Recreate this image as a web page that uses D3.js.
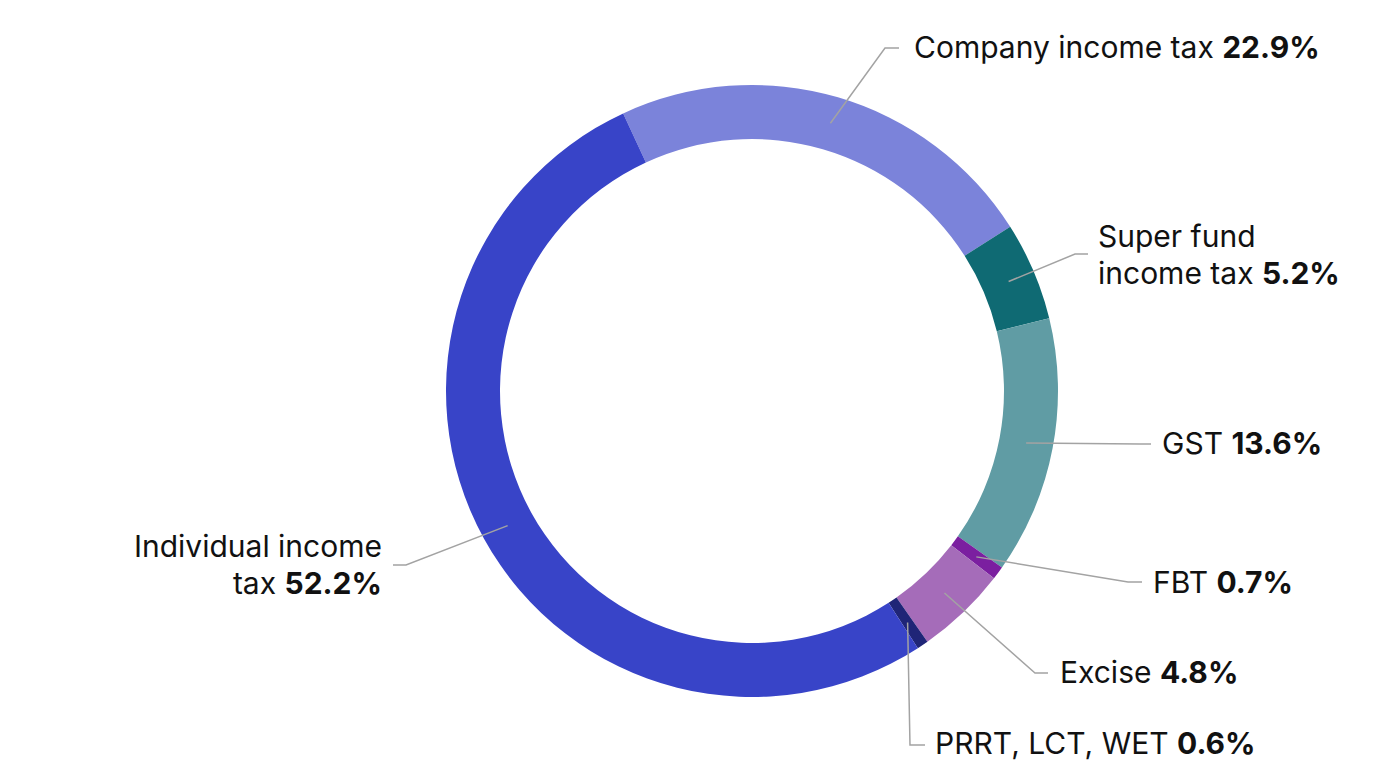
<!DOCTYPE html>
<html>
<head>
<meta charset="utf-8">
<script src="https://cdn.jsdelivr.net/npm/d3@7"></script>
<style>
  body { margin: 0; background: #fff; }
  text { font-family: Inter, "Noto Sans", sans-serif; fill: #111; }
</style>
</head>
<body>
<div id="chart"></div>
<script>
// revenue shares, clockwise from the top
var categories = ["Company income tax", "Super fund income tax", "GST", "FBT", "Excise", "PRRT, LCT, WET", "Individual income tax"];
var shares = [22.9, 5.2, 13.6, 0.7, 4.8, 0.6, 52.2];
var colours = ["#7b83da", "#0f6a73", "#609ca4", "#7b1fa0", "#a56cb9", "#1f2577", "#3844c8"];
// how each label wraps (lines of plain text, last line gets the bold value)
var labelLines = [["Company income tax"], ["Super fund", "income tax"], ["GST"], ["FBT"], ["Excise"], ["PRRT, LCT, WET"], ["Individual income", "tax"]];

var width = 1378, height = 775;
var cx = 752, cy = 391, outerR = 306, innerR = 252;

// label placement: elbow of the leader line, end of line, text anchor
var labelPos = [
  { elbow: [885, 48], end: [899, 48], tx: 914, ty: 58, anchor: "start" },
  { elbow: [1075, 254], end: [1088, 254], tx: 1098, ty: 247, anchor: "start" },
  { elbow: [1140, 444], end: [1151, 444], tx: 1162, ty: 454, anchor: "start" },
  { elbow: [1128, 582], end: [1142, 582], tx: 1153, ty: 593, anchor: "start" },
  { elbow: [1035, 673], end: [1048, 673], tx: 1060, ty: 683, anchor: "start" },
  { elbow: [910, 745], end: [925, 745], tx: 935, ty: 754, anchor: "start" },
  { elbow: [406, 565], end: [393, 565], tx: 382, ty: 557, anchor: "end" }
];

var data = categories.map(function(c, i) {
  return { name: c, value: shares[i], colour: colours[i], lines: labelLines[i], pos: labelPos[i] };
});

var svg = d3.select("#chart").append("svg")
    .attr("width", width)
    .attr("height", height);

var startAngle = -24.9 * Math.PI / 180;

var pie = d3.pie()
    .sort(null)
    .value(function(d) { return d.value; })
    .startAngle(startAngle)
    .endAngle(startAngle + 2 * Math.PI);

var arc = d3.arc()
    .innerRadius(innerR)
    .outerRadius(outerR);

var g = svg.append("g")
    .attr("transform", "translate(" + cx + "," + cy + ")");

var arcs = pie(data);

g.selectAll("path.slice")
    .data(arcs)
    .enter().append("path")
    .attr("class", "slice")
    .attr("d", arc)
    .attr("fill", function(d) { return d.data.colour; });

// leader lines, from the middle of the ring out to the label
svg.append("g")
    .selectAll("polyline")
    .data(arcs)
    .enter().append("polyline")
    .attr("points", function(d) {
      var c = arc.centroid(d);
      var p = d.data.pos;
      return [[c[0] + cx, c[1] + cy], p.elbow, p.end].join(" ");
    })
    .attr("fill", "none")
    .attr("stroke", "#a3a3a3")
    .attr("stroke-width", 1.5);

var labels = svg.append("g")
    .selectAll("text")
    .data(data)
    .enter().append("text")
    .attr("x", function(d) { return d.pos.tx; })
    .attr("y", function(d) { return d.pos.ty; })
    .attr("text-anchor", function(d) { return d.pos.anchor; })
    .style("font-size", "30px");

labels.each(function(d) {
  var t = d3.select(this);
  d.lines.forEach(function(line, i) {
    var last = i === d.lines.length - 1;
    t.append("tspan")
        .attr("x", d.pos.tx)
        .attr("dy", i === 0 ? 0 : 36.5)
        .text(line + (last ? " " : ""));
    if (last) {
      t.append("tspan")
        .style("font-weight", 700)
        .text(d.value.toFixed(1) + "%");
    }
  });
});
</script>
</body>
</html>
